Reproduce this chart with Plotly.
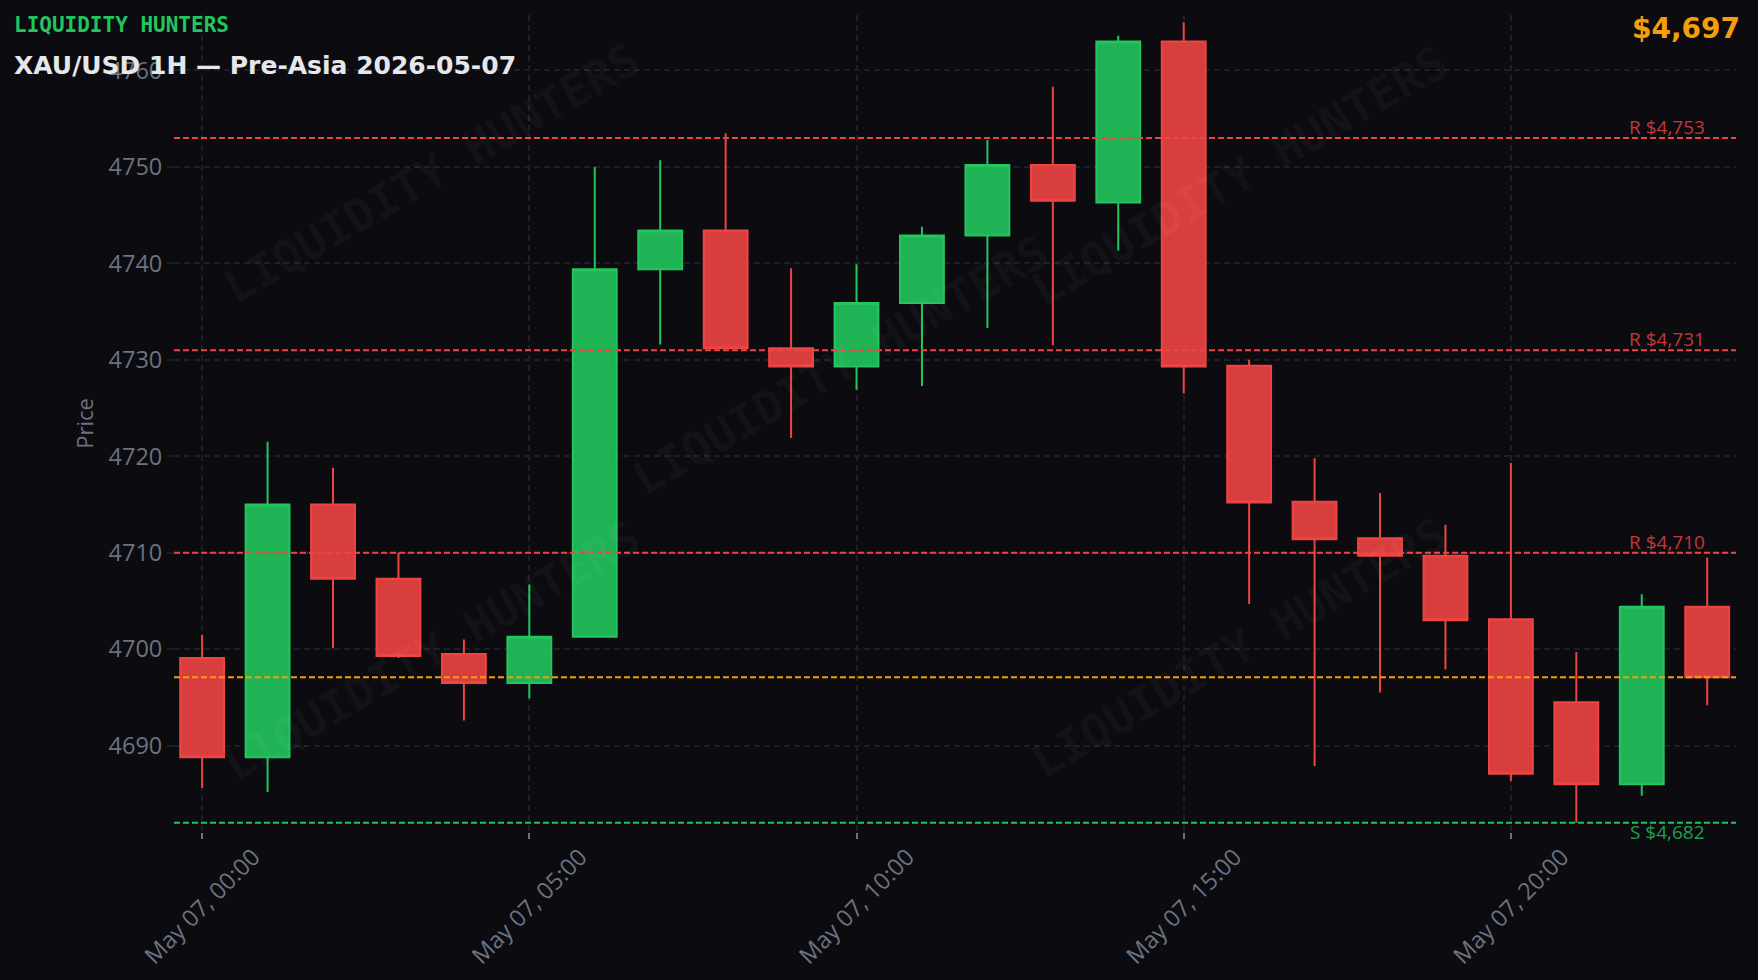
import plotly.graph_objects as go

times = [f"2026-05-07 {h:02d}:00" for h in range(24)]
opens = [4699.1, 4688.8, 4715.0, 4707.3, 4699.5, 4696.5, 4701.3, 4739.4, 4743.4, 4731.2, 4729.3, 4735.9,
         4742.9, 4750.2, 4746.3, 4763.0, 4729.4, 4715.3, 4711.5, 4709.7, 4703.1, 4694.5, 4686.0, 4704.4]
highs = [4701.5, 4721.5, 4718.8, 4710.0, 4701.0, 4706.7, 4750.0, 4750.7, 4753.5, 4739.5, 4739.9, 4743.8,
         4752.8, 4758.3, 4763.6, 4765.0, 4730.0, 4719.8, 4716.2, 4712.9, 4719.3, 4699.7, 4705.7, 4709.5]
lows = [4685.6, 4685.2, 4700.1, 4699.1, 4692.6, 4694.9, 4701.3, 4731.6, 4731.2, 4721.9, 4726.9, 4727.3,
        4733.3, 4731.5, 4741.3, 4726.5, 4704.7, 4687.9, 4695.5, 4697.9, 4686.3, 4682.0, 4684.8, 4694.2]
closes = [4688.8, 4715.0, 4707.3, 4699.3, 4696.5, 4701.3, 4739.4, 4743.4, 4731.2, 4729.3, 4735.9, 4742.9,
          4750.2, 4746.5, 4763.0, 4729.3, 4715.2, 4711.4, 4709.7, 4703.0, 4687.1, 4686.0, 4704.4, 4697.1]

resistance_levels = [4753, 4731, 4710]
support_levels = [4682]
current_price = 4697.1

brand = "LIQUIDITY HUNTERS"
title_text = "XAU/USD 1H — Pre-Asia 2026-05-07"

BG = "#0b0b10"
GRID = "#1d1e27"
MUTED = "#6b7280"
GREEN = "#22c55e"
RED = "#ef4444"
ORANGE = "#f59e0b"

fig = go.Figure()
fig.add_trace(go.Candlestick(
    x=times, open=opens, high=highs, low=lows, close=closes,
    increasing=dict(line=dict(color=GREEN, width=2), fillcolor="rgba(34,197,94,0.9)"),
    decreasing=dict(line=dict(color=RED, width=2), fillcolor="rgba(239,68,68,0.9)"),
    showlegend=False, hoverinfo="skip",
))

# watermarks
wm_pos = [(0.165, 0.807), (0.682, 0.803), (0.427, 0.572), (0.165, 0.222), (0.682, 0.225)]
for (wx, wy) in wm_pos:
    fig.add_annotation(x=wx, y=wy, xref="paper", yref="paper", text=f"<b>{brand}</b>", showarrow=False,
                       textangle=-30, font=dict(family="DejaVu Sans Mono", size=46, color="rgba(255,255,255,0.038)"),
                       xanchor="center", yanchor="middle")

for lvl in resistance_levels:
    fig.add_shape(type="line", xref="paper", x0=0, x1=1, yref="y", y0=lvl, y1=lvl,
                  line=dict(color=RED, width=2, dash="6px,3px"), layer="above")
    fig.add_annotation(x=times[-1], y=lvl, xref="x", yref="y", text=f"R ${lvl:,}", showarrow=False,
                       xanchor="right", yanchor="bottom", yshift=-4,
                       font=dict(family="Open Sans", size=19, color=RED), opacity=0.8)
for lvl in support_levels:
    fig.add_shape(type="line", xref="paper", x0=0, x1=1, yref="y", y0=lvl, y1=lvl,
                  line=dict(color=GREEN, width=2, dash="6px,3px"), layer="above")
    fig.add_annotation(x=times[-1], y=lvl, xref="x", yref="y", text=f"S ${lvl:,}", showarrow=False,
                       xanchor="right", yanchor="top", yshift=6,
                       font=dict(family="Open Sans", size=19, color=GREEN), opacity=0.8)

fig.add_shape(type="line", xref="paper", x0=0, x1=1, yref="y", y0=current_price, y1=current_price,
              line=dict(color=ORANGE, width=2, dash="6px,3px"), layer="above")

fig.add_annotation(x=-0.1035, y=0.988, xref="paper", yref="paper", text=brand, showarrow=False,
                   xanchor="left", yanchor="middle",
                   font=dict(family="DejaVu Sans Mono", size=21, color=GREEN, weight="bold"))
fig.add_annotation(x=-0.1035, y=0.938, xref="paper", yref="paper", text=f"<b>{title_text}</b>", showarrow=False,
                   xanchor="left", yanchor="middle",
                   font=dict(family="DejaVu Sans", size=25, color="#e5e7eb"))
fig.add_annotation(x=1.0036, y=0.983, xref="paper", yref="paper", text=f"<b>${current_price:,.0f}</b>",
                   showarrow=False, xanchor="right", yanchor="middle",
                   font=dict(family="DejaVu Sans", size=28, color=ORANGE))

fig.update_layout(
    width=1758, height=980,
    paper_bgcolor=BG, plot_bgcolor=BG,
    margin=dict(l=174, r=22, t=15, b=148, autoexpand=False),
    font=dict(family="Open Sans", color=MUTED),
    showlegend=False,
    boxgap=0.33, boxgroupgap=0,
    xaxis=dict(
        rangeslider=dict(visible=False),
        type="date", automargin=False,
        range=["2026-05-06 23:34:12", "2026-05-07 23:26:24"],
        tick0="2026-05-07 00:00", dtick=5 * 3600 * 1000,
        tickformat="%b %d, %H:%M", tickangle=-45,
        tickfont=dict(size=23.5, color=MUTED),
        ticklabelshift=51, ticklabelstandoff=-5,
        showgrid=True, gridcolor=GRID, gridwidth=2, griddash="6px,4px",
        ticks="outside", ticklen=6, tickwidth=2, tickcolor=MUTED,
        showline=False, zeroline=False,
    ),
    yaxis=dict(
        range=[4681.05, 4765.75], automargin=False,
        tick0=4690, dtick=10,
        tickfont=dict(size=23.5, color=MUTED),
        title=dict(text="Price", font=dict(size=22, color=MUTED), standoff=8),
        showgrid=True, gridcolor=GRID, gridwidth=2, griddash="6px,4px",
        ticks="outside", ticklen=6, tickwidth=2, tickcolor=GRID,
        showline=False, zeroline=False,
    ),
)

fig.write_html("out.html", config={"displayModeBar": False},
               post_script="document.body.style.margin='0';document.body.style.overflow='hidden';document.body.style.background='#0b0b10';")
